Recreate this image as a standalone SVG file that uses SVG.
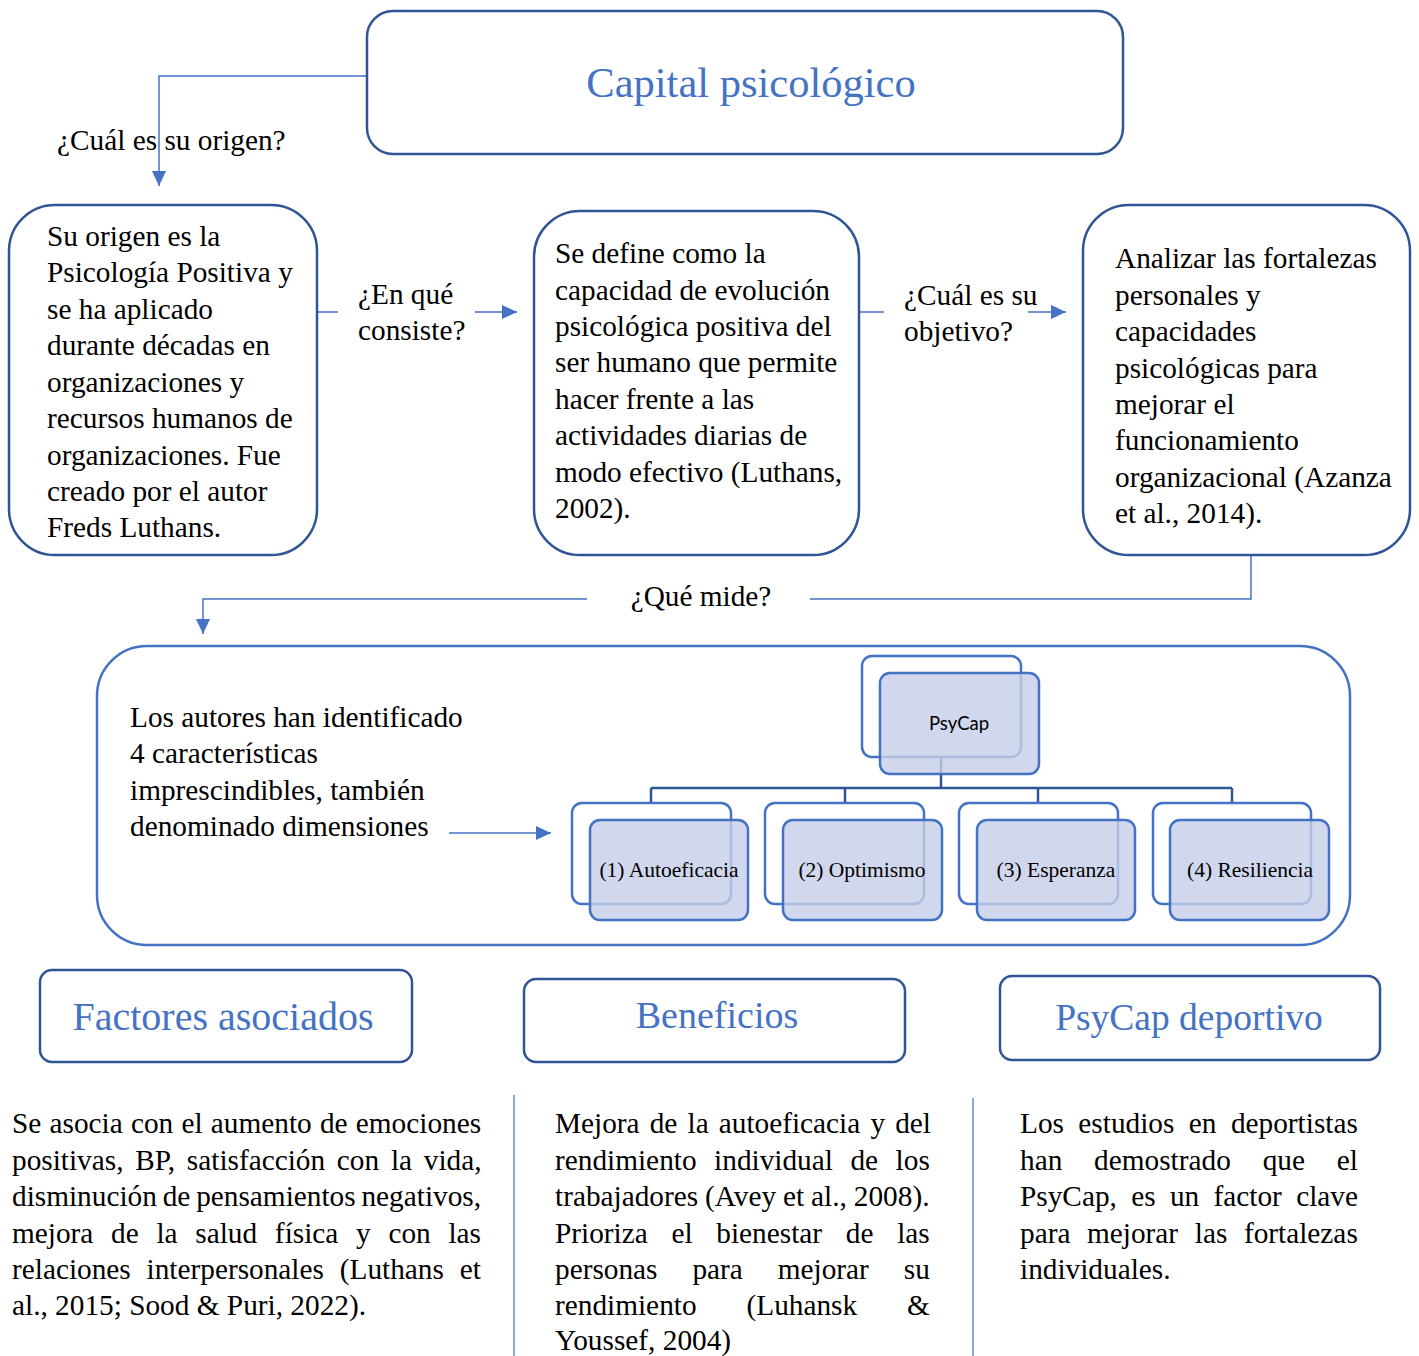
<svg xmlns="http://www.w3.org/2000/svg" width="1419" height="1356" viewBox="0 0 1419 1356">
  <defs>
    <marker id="arrow" markerUnits="userSpaceOnUse" markerWidth="16" markerHeight="16" refX="15" refY="7" orient="auto">
      <path d="M0,0 L15,7 L0,14 Z" fill="#4472c4"/>
    </marker>
    <style>
      .body { font-family: "Liberation Serif", "Times New Roman", serif; font-size: 29.3px; fill: #000; }
      .title { font-family: "Liberation Serif", "Times New Roman", serif; fill: #4472c4; text-anchor: middle; }
      .box { fill: #fff; stroke: #2f5597; stroke-width: 2.5; }
      .bigbox { fill: none; stroke: #4472c4; stroke-width: 2.5; }
      .conn { fill: none; stroke: #4472c4; stroke-width: 1.5; }
      .tree { fill: none; stroke: #2f5597; stroke-width: 2.5; }
      .back { fill: #fff; stroke: #4472c4; stroke-width: 2.5; }
      .front { fill: #c5cee8; fill-opacity: 0.8; stroke: #4472c4; stroke-width: 2.5; }
      .small { font-family: "Liberation Serif", "Times New Roman", serif; font-size: 21.5px; text-anchor: middle; fill: #000; }
      .divider { stroke: #8eaadb; stroke-width: 2; }
    </style>
  </defs>

  <!-- connectors -->
  <g id="connectors">
    <polyline class="conn" points="367,76 159,76 159,186" marker-end="url(#arrow)"/>
    <line class="conn" x1="317" y1="312" x2="338" y2="312"/>
    <line class="conn" x1="475" y1="312" x2="517" y2="312" marker-end="url(#arrow)"/>
    <line class="conn" x1="859" y1="312" x2="884" y2="312"/>
    <line class="conn" x1="1028" y1="312" x2="1066" y2="312" marker-end="url(#arrow)"/>
    <polyline class="conn" points="1251,555 1251,599 810,599"/>
    <polyline class="conn" points="587,599 203,599 203,634" marker-end="url(#arrow)"/>
    <line class="conn" x1="449" y1="833" x2="551" y2="833" marker-end="url(#arrow)"/>
    <text class="body" x="57" y="150">¿Cuál es su origen?</text>
    <text class="body" x="358" y="304">¿En qué</text>
    <text class="body" x="358" y="340">consiste?</text>
    <text class="body" x="904" y="305">¿Cuál es su</text>
    <text class="body" x="904" y="341">objetivo?</text>
    <text class="body" x="701" y="606" text-anchor="middle">¿Qué mide?</text>
  </g>

  <!-- title -->
  <g id="capital">
    <rect class="box" x="367" y="11" width="756" height="143" rx="26"/>
    <text class="title" x="751" y="97" font-size="42.5">Capital psicológico</text>
  </g>

  <!-- origin -->
  <g id="origen">
    <rect class="box" x="9" y="205" width="308" height="350" rx="46"/>
    <text class="body" x="47" y="246">Su origen es la</text>
    <text class="body" x="47" y="282">Psicología Positiva y</text>
    <text class="body" x="47" y="319">se ha aplicado</text>
    <text class="body" x="47" y="355">durante décadas en</text>
    <text class="body" x="47" y="392">organizaciones y</text>
    <text class="body" x="47" y="428">recursos humanos de</text>
    <text class="body" x="47" y="465">organizaciones. Fue</text>
    <text class="body" x="47" y="501">creado por el autor</text>
    <text class="body" x="47" y="537">Freds Luthans.</text>
  </g>

  <!-- definition -->
  <g id="definicion">
    <rect class="box" x="534" y="211" width="325" height="344" rx="46"/>
    <text class="body" x="555" y="263">Se define como la</text>
    <text class="body" x="555" y="300">capacidad de evolución</text>
    <text class="body" x="555" y="336">psicológica positiva del</text>
    <text class="body" x="555" y="372">ser humano que permite</text>
    <text class="body" x="555" y="409">hacer frente a las</text>
    <text class="body" x="555" y="445">actividades diarias de</text>
    <text class="body" x="555" y="482">modo efectivo (Luthans,</text>
    <text class="body" x="555" y="518">2002).</text>
  </g>

  <!-- objective -->
  <g id="objetivo">
    <rect class="box" x="1083" y="205" width="327" height="350" rx="46"/>
    <text class="body" x="1115" y="268">Analizar las fortalezas</text>
    <text class="body" x="1115" y="305">personales y</text>
    <text class="body" x="1115" y="341">capacidades</text>
    <text class="body" x="1115" y="378">psicológicas para</text>
    <text class="body" x="1115" y="414">mejorar el</text>
    <text class="body" x="1115" y="450">funcionamiento</text>
    <text class="body" x="1115" y="487">organizacional (Azanza</text>
    <text class="body" x="1115" y="523">et al., 2014).</text>
  </g>

  <!-- dimensions panel -->
  <g id="dimensiones">
    <rect class="bigbox" x="97" y="646" width="1253" height="299" rx="50"/>
    <text class="body" x="130" y="727">Los autores han identificado</text>
    <text class="body" x="130" y="763">4 características</text>
    <text class="body" x="130" y="800">imprescindibles, también</text>
    <text class="body" x="130" y="836">denominado dimensiones</text>
  </g>

  <!-- PsyCap hierarchy -->
  <g id="psycap-tree">
    <polyline class="tree" points="941,757 941,788"/>
    <line class="tree" x1="651" y1="788" x2="1232" y2="788"/>
    <line class="tree" x1="651" y1="788" x2="651" y2="803"/>
    <line class="tree" x1="845" y1="788" x2="845" y2="803"/>
    <line class="tree" x1="1038" y1="788" x2="1038" y2="803"/>
    <line class="tree" x1="1232" y1="788" x2="1232" y2="803"/>
  </g>
  <g id="psycap">
    <rect class="back" x="862" y="656" width="159" height="101" rx="10"/>
    <rect class="front" x="880" y="673" width="159" height="101" rx="10"/>
    <text x="959" y="730" font-family="Lato, 'Open Sans', sans-serif" font-size="18.5" text-anchor="middle" fill="#000">PsyCap</text>
  </g>
  <g id="autoeficacia">
    <rect class="back" x="572" y="803" width="159" height="101" rx="10"/>
    <rect class="front" x="590" y="820" width="158" height="100" rx="10"/>
    <text class="small" x="669" y="877">(1) Autoeficacia</text>
  </g>
  <g id="optimismo">
    <rect class="back" x="765" y="803" width="159" height="101" rx="10"/>
    <rect class="front" x="783" y="820" width="159" height="100" rx="10"/>
    <text class="small" x="862" y="877">(2) Optimismo</text>
  </g>
  <g id="esperanza">
    <rect class="back" x="959" y="803" width="159" height="101" rx="10"/>
    <rect class="front" x="977" y="820" width="158" height="100" rx="10"/>
    <text class="small" x="1056" y="877">(3) Esperanza</text>
  </g>
  <g id="resiliencia">
    <rect class="back" x="1153" y="803" width="158" height="101" rx="10"/>
    <rect class="front" x="1170" y="820" width="159" height="100" rx="10"/>
    <text class="small" x="1250" y="877">(4) Resiliencia</text>
  </g>

  <!-- section headers -->
  <g id="factores">
    <rect class="box" x="40" y="970" width="372" height="92" rx="12"/>
    <text class="title" x="223" y="1030" font-size="40">Factores asociados</text>
  </g>
  <g id="beneficios">
    <rect class="box" x="524" y="979" width="381" height="83" rx="12"/>
    <text class="title" x="717" y="1028" font-size="38">Beneficios</text>
  </g>
  <g id="deportivo">
    <rect class="box" x="1000" y="976" width="380" height="84" rx="12"/>
    <text class="title" x="1189" y="1030" font-size="37.5">PsyCap deportivo</text>
  </g>

  <!-- column separators -->
  <line class="divider" x1="514" y1="1095" x2="514" y2="1356"/>
  <line class="divider" x1="973" y1="1098" x2="973" y2="1356"/>

  <!-- justified paragraphs (word spacing set per line) -->
  <g id="texto-factores" class="body">
    <text x="12" y="1133" word-spacing="0.9">Se asocia con el aumento de emociones</text>
    <text x="12" y="1170" word-spacing="4.4">positivas, BP, satisfacción con la vida,</text>
    <text x="12" y="1206" word-spacing="-1.5">disminución de pensamientos negativos,</text>
    <text x="12" y="1243" word-spacing="10.4">mejora de la salud física y con las</text>
    <text x="12" y="1279" word-spacing="8.5">relaciones interpersonales (Luthans et</text>
    <text x="12" y="1315">al., 2015; Sood &amp; Puri, 2022).</text>
  </g>
  <g id="texto-beneficios" class="body">
    <text x="555" y="1133" word-spacing="2.8">Mejora de la autoeficacia y del</text>
    <text x="555" y="1170" word-spacing="10.2">rendimiento individual de los</text>
    <text x="555" y="1206" word-spacing="-0.4">trabajadores (Avey et al., 2008).</text>
    <text x="555" y="1243" word-spacing="16.4">Prioriza el bienestar de las</text>
    <text x="555" y="1279" word-spacing="27.6">personas para mejorar su</text>
    <text x="555" y="1315" word-spacing="42.6">rendimiento (Luhansk &amp;</text>
    <text x="555" y="1350">Youssef, 2004)</text>
  </g>
  <g id="texto-deportivo" class="body">
    <text x="1020" y="1133" word-spacing="7.1">Los estudios en deportistas</text>
    <text x="1020" y="1170" word-spacing="24.5">han demostrado que el</text>
    <text x="1020" y="1206" word-spacing="7">PsyCap, es un factor clave</text>
    <text x="1020" y="1243" word-spacing="9.3">para mejorar las fortalezas</text>
    <text x="1020" y="1279">individuales.</text>
  </g>
</svg>
